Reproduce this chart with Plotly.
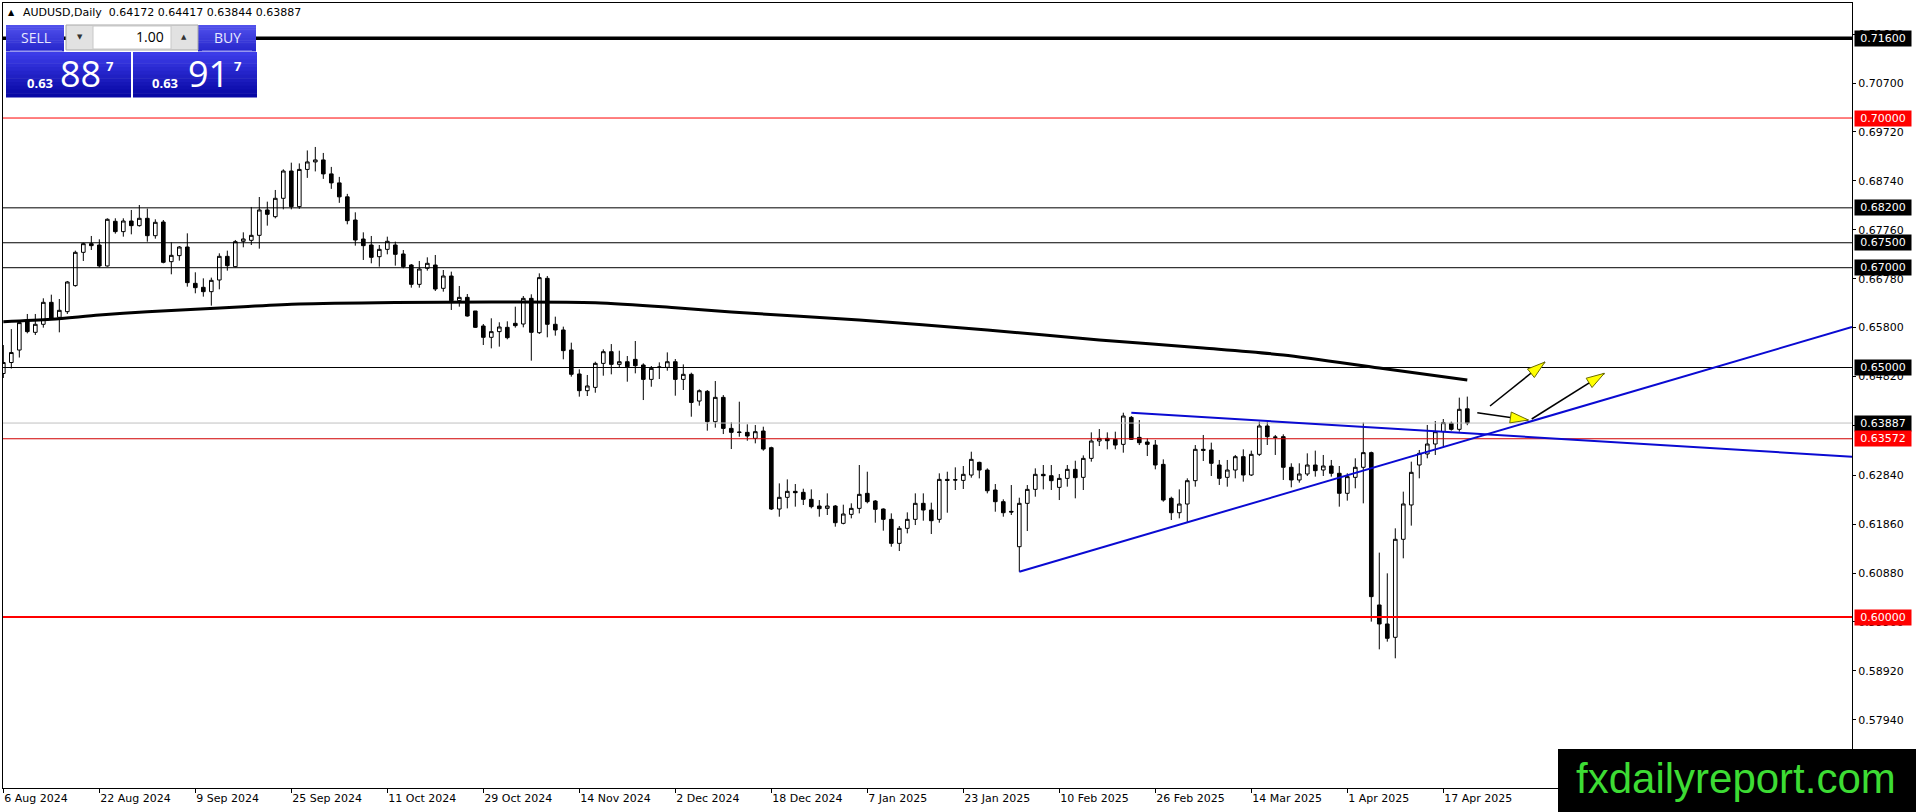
import plotly.graph_objects as go
import pandas as pd

# AUDUSD daily candles, 6 Aug 2024 .. 22 Apr 2025 (broker has no bar on 25 Dec / 1 Jan)
dates = pd.bdate_range("2024-08-06", "2025-04-22")
dates = dates[~dates.isin(pd.to_datetime(["2024-12-25", "2025-01-01"]))]

opens = [
    0.64880, 0.65100, 0.65350, 0.65939, 0.65705, 0.65866, 0.66306, 0.66006, 0.66119, 0.66641,
    0.67308, 0.67482, 0.67455, 0.67035, 0.67930, 0.67723, 0.67936, 0.67843, 0.67990, 0.67642,
    0.67916, 0.67121, 0.67242, 0.67415, 0.66687, 0.66607, 0.66520, 0.66754, 0.67228, 0.67021,
    0.67529, 0.67549, 0.67649, 0.68157, 0.68023, 0.68391, 0.68938, 0.68224, 0.68970, 0.69120,
    0.69160, 0.68880, 0.68700, 0.68420, 0.67956, 0.67575, 0.67455, 0.67221, 0.67368, 0.67455,
    0.67275, 0.67054, 0.66667, 0.66988, 0.67054, 0.66587, 0.66834, 0.66340, 0.66406, 0.66133,
    0.65832, 0.65605, 0.65719, 0.65805, 0.65885, 0.65872, 0.66386, 0.65698, 0.66787, 0.65866,
    0.65752, 0.65351, 0.64870, 0.64536, 0.64602, 0.65083, 0.65317, 0.65063, 0.65116, 0.65163,
    0.65050, 0.64762, 0.65000, 0.65003, 0.65116, 0.64762, 0.64863, 0.64328, 0.64522, 0.63914,
    0.64402, 0.63780, 0.63707, 0.63700, 0.63580, 0.63727, 0.63393, 0.62164, 0.62398, 0.62518,
    0.62498, 0.62358, 0.62224, 0.62177, 0.62224, 0.61877, 0.62057, 0.62177, 0.62478, 0.62324,
    0.62164, 0.61957, 0.61476, 0.61777, 0.61957, 0.62278, 0.62144, 0.61957, 0.62758, 0.62752,
    0.62738, 0.62845, 0.63099, 0.62945, 0.62545, 0.62311, 0.62117, 0.61409, 0.62278, 0.62558,
    0.62859, 0.62832, 0.62598, 0.62778, 0.62959, 0.62799, 0.63179, 0.63527, 0.63580, 0.63560,
    0.63460, 0.64001, 0.63600, 0.63507, 0.63446, 0.63059, 0.62378, 0.62090, 0.62264, 0.62732,
    0.63360, 0.63347, 0.63046, 0.62799, 0.62946, 0.63213, 0.62846, 0.63260, 0.63828, 0.63608,
    0.63614, 0.63000, 0.62746, 0.62866, 0.63046, 0.62946, 0.63026, 0.62880, 0.62479, 0.62799,
    0.63000, 0.63294, 0.60241, 0.59860, 0.59593, 0.61557, 0.62245, 0.63046, 0.63267, 0.63467,
    0.63714, 0.63881, 0.63761, 0.64172,
]
highs = [
    0.65450, 0.65770, 0.65940, 0.66073, 0.66073, 0.66387, 0.66460, 0.66373, 0.66734, 0.67342,
    0.67502, 0.67636, 0.67569, 0.67990, 0.67990, 0.67990, 0.68157, 0.68257, 0.68184, 0.67970,
    0.67956, 0.67509, 0.67435, 0.67689, 0.66908, 0.66787, 0.66801, 0.67288, 0.67342, 0.67556,
    0.67709, 0.68217, 0.68417, 0.68324, 0.68558, 0.68972, 0.69105, 0.69090, 0.69350, 0.69420,
    0.69300, 0.69020, 0.68820, 0.68480, 0.68110, 0.67709, 0.67636, 0.67455, 0.67622, 0.67522,
    0.67355, 0.67074, 0.67135, 0.67208, 0.67255, 0.66954, 0.66921, 0.66634, 0.66473, 0.66133,
    0.65872, 0.65986, 0.65906, 0.65926, 0.66219, 0.66433, 0.66467, 0.66887, 0.66834, 0.66019,
    0.65819, 0.65498, 0.64964, 0.64850, 0.65116, 0.65364, 0.65470, 0.65337, 0.65230, 0.65531,
    0.65083, 0.65030, 0.65103, 0.65303, 0.65170, 0.65063, 0.64896, 0.64562, 0.64549, 0.64729,
    0.64448, 0.63901, 0.64315, 0.63861, 0.63847, 0.63814, 0.63413, 0.62678, 0.62758, 0.62665,
    0.62571, 0.62558, 0.62344, 0.62478, 0.62244, 0.62251, 0.62278, 0.63046, 0.62912, 0.62344,
    0.62177, 0.62077, 0.61823, 0.62097, 0.62478, 0.62478, 0.62291, 0.62879, 0.62912, 0.62999,
    0.63026, 0.63313, 0.63113, 0.62979, 0.62665, 0.62358, 0.62645, 0.62391, 0.62645, 0.62979,
    0.63046, 0.63046, 0.62865, 0.63046, 0.63132, 0.63239, 0.63700, 0.63767, 0.63700, 0.63714,
    0.64094, 0.64028, 0.63947, 0.63580, 0.63547, 0.63159, 0.62411, 0.62558, 0.62779, 0.63446,
    0.63648, 0.63494, 0.63147, 0.63147, 0.63247, 0.63360, 0.63334, 0.63915, 0.63915, 0.63648,
    0.63661, 0.63080, 0.63080, 0.63280, 0.63334, 0.63247, 0.63147, 0.63026, 0.62880, 0.63180,
    0.63895, 0.63314, 0.61290, 0.60875, 0.61777, 0.62512, 0.63113, 0.63347, 0.63848, 0.63928,
    0.63968, 0.63915, 0.64396, 0.64417,
]
lows = [
    0.64790, 0.64980, 0.65200, 0.65685, 0.65652, 0.65799, 0.65952, 0.65705, 0.66073, 0.66620,
    0.67135, 0.67355, 0.67001, 0.67021, 0.67683, 0.67622, 0.67669, 0.67823, 0.67522, 0.67582,
    0.67088, 0.66868, 0.67141, 0.66620, 0.66487, 0.66420, 0.66240, 0.66567, 0.66941, 0.67008,
    0.67409, 0.67455, 0.67382, 0.67843, 0.67990, 0.68170, 0.68170, 0.68180, 0.68800, 0.68930,
    0.68780, 0.68580, 0.68300, 0.67870, 0.67442, 0.67155, 0.67088, 0.67021, 0.67268, 0.67041,
    0.66988, 0.66600, 0.66600, 0.66941, 0.66533, 0.66520, 0.66153, 0.66219, 0.66019, 0.65792,
    0.65451, 0.65384, 0.65418, 0.65565, 0.65799, 0.65805, 0.65137, 0.65672, 0.65605, 0.65638,
    0.65164, 0.64817, 0.64416, 0.64429, 0.64495, 0.64836, 0.64863, 0.65003, 0.64716, 0.64883,
    0.64348, 0.64615, 0.64769, 0.64936, 0.64435, 0.64549, 0.64014, 0.64235, 0.63734, 0.63794,
    0.63667, 0.63366, 0.63613, 0.63533, 0.63480, 0.63333, 0.62144, 0.62010, 0.62177, 0.62211,
    0.62244, 0.62177, 0.62010, 0.62044, 0.61810, 0.61857, 0.61977, 0.62077, 0.62278, 0.61890,
    0.61730, 0.61409, 0.61322, 0.61676, 0.61843, 0.61930, 0.61663, 0.61890, 0.62090, 0.62545,
    0.62565, 0.62792, 0.62778, 0.62478, 0.62110, 0.62010, 0.62044, 0.60908, 0.61723, 0.62411,
    0.62558, 0.62545, 0.62344, 0.62612, 0.62378, 0.62545, 0.63113, 0.63426, 0.63360, 0.63360,
    0.63293, 0.63547, 0.63446, 0.63226, 0.62959, 0.62311, 0.61944, 0.61977, 0.61890, 0.62612,
    0.63127, 0.62826, 0.62646, 0.62612, 0.62779, 0.62712, 0.62826, 0.63227, 0.63447, 0.63247,
    0.62746, 0.62599, 0.62692, 0.62826, 0.62813, 0.62826, 0.62813, 0.62211, 0.62332, 0.62579,
    0.62278, 0.59907, 0.59352, 0.59506, 0.59172, 0.61176, 0.61831, 0.62779, 0.63180, 0.63247,
    0.63414, 0.63735, 0.63714, 0.63844,
]
closes = [
    0.65100, 0.65300, 0.65900, 0.65719, 0.65866, 0.66306, 0.65972, 0.66146, 0.66714, 0.67308,
    0.67482, 0.67442, 0.67035, 0.67970, 0.67723, 0.67936, 0.67843, 0.67990, 0.67642, 0.67910,
    0.67108, 0.67248, 0.67415, 0.66701, 0.66600, 0.66520, 0.66747, 0.67228, 0.67041, 0.67522,
    0.67576, 0.67649, 0.68157, 0.68070, 0.68391, 0.68938, 0.68224, 0.68970, 0.69120, 0.69160,
    0.68880, 0.68700, 0.68420, 0.67943, 0.67555, 0.67442, 0.67208, 0.67368, 0.67529, 0.67268,
    0.67021, 0.66667, 0.66974, 0.67088, 0.66573, 0.66834, 0.66340, 0.66406, 0.66032, 0.65805,
    0.65605, 0.65719, 0.65812, 0.65598, 0.65839, 0.66386, 0.65705, 0.66801, 0.65866, 0.65752,
    0.65338, 0.64864, 0.64536, 0.64630, 0.65083, 0.65317, 0.65063, 0.65116, 0.65016, 0.65036,
    0.64762, 0.64983, 0.65010, 0.65116, 0.64762, 0.64863, 0.64300, 0.64535, 0.63914, 0.64402,
    0.63780, 0.63700, 0.63700, 0.63627, 0.63714, 0.63366, 0.62164, 0.62398, 0.62518, 0.62491,
    0.62358, 0.62211, 0.62171, 0.62224, 0.61890, 0.62064, 0.62177, 0.62458, 0.62311, 0.62157,
    0.61957, 0.61476, 0.61777, 0.61957, 0.62278, 0.62144, 0.61930, 0.62758, 0.62738, 0.62745,
    0.62859, 0.63159, 0.62945, 0.62530, 0.62311, 0.62090, 0.62104, 0.62278, 0.62558, 0.62859,
    0.62832, 0.62732, 0.62778, 0.62959, 0.62792, 0.63179, 0.63527, 0.63580, 0.63533, 0.63446,
    0.64028, 0.63560, 0.63493, 0.63460, 0.63046, 0.62344, 0.62090, 0.62264, 0.62732, 0.63360,
    0.63340, 0.63080, 0.62779, 0.62946, 0.63213, 0.62846, 0.63260, 0.63828, 0.63614, 0.63601,
    0.63000, 0.62746, 0.62866, 0.63046, 0.62933, 0.63026, 0.62880, 0.62479, 0.62813, 0.63000,
    0.63294, 0.60408, 0.59860, 0.59573, 0.61557, 0.62265, 0.62899, 0.63280, 0.63467, 0.63714,
    0.63895, 0.63761, 0.64162, 0.63887,
]

# moving average (read at a few bars)
ma_bars = [0, 6, 12, 18, 24, 30, 37, 49, 61, 74, 84, 91, 107, 123, 137, 150, 160, 172, 183]
ma_vals = [0.65918, 0.65966, 0.66052, 0.66118, 0.66166, 0.66218, 0.66273, 0.66303, 0.66313,
           0.66300, 0.66200, 0.66112, 0.65952, 0.65752, 0.65551, 0.65391, 0.65251, 0.64990, 0.64749]

tick_dates = ["2024-08-06", "2024-08-22", "2024-09-09", "2024-09-25", "2024-10-11", "2024-10-29",
              "2024-11-14", "2024-12-02", "2024-12-18", "2025-01-07", "2025-01-23", "2025-02-10",
              "2025-02-26", "2025-03-14", "2025-04-01", "2025-04-17"]
price_ticks = [0.7168, 0.7070, 0.6972, 0.6874, 0.6776, 0.6678, 0.6580, 0.6482, 0.6384,
               0.6284, 0.6186, 0.6088, 0.5990, 0.5892, 0.5794]

# horizontal levels: price, line colour, width, label colour
levels = [
    (0.71600, "black", 3.5, "black"),
    (0.70000, "#ff0000", 1, "#ff0000"),
    (0.68200, "black", 1, "black"),
    (0.67500, "black", 1, "black"),
    (0.67000, "black", 1, "black"),
    (0.65000, "black", 1, "black"),
    (0.63887, "#c0c0c0", 1, "black"),
    (0.63572, "#d00000", 1, "#ff0000"),
    (0.60000, "#ff0000", 2, "#ff0000"),
]

# trendlines (bar, price) anchors, drawn as rays to the right
trend_up = [(127, 0.60908), (183, 0.63546)]
trend_down = [(141, 0.64094), (183, 0.63683)]

# arrows: start -> tip (bar, price)
arrows = [
    ((185.84, 0.64228), (192.71, 0.65110)),
    ((184.25, 0.64094), (190.63, 0.63948)),
    ((191.05, 0.63968), (200.13, 0.64884)),
]

W, H = 1916, 812
L, R, T, B = 3, 1852, 3, 788
XR = [-0.04, 231.09]
YR = [0.56573, 0.72305]
KX = (R - L) / (XR[1] - XR[0])
KY = (B - T) / (YR[1] - YR[0])

date_list = list(dates.strftime("%Y-%m-%d"))
bars = list(range(len(date_list)))
tickvals = [date_list.index(d) for d in tick_dates]
ticktext = [pd.Timestamp(d).strftime("%-d %b %Y") for d in tick_dates]


def px(x):
    return (x - L) / (R - L)


def py(y):
    return 1 - (y - T) / (B - T)


def box(x0, y0, x1, y1, fill, line=None, lw=0):
    return dict(type="rect", xref="paper", yref="paper", layer="above",
                x0=px(x0), x1=px(x1), y0=py(y1), y1=py(y0),
                fillcolor=fill, line=dict(color=line or fill, width=lw))


def gradient(x0, y0, x1, y1, top, bot, n=12):
    out = []
    for k in range(n):
        t = k / (n - 1)
        c = tuple(round(a + (b - a) * t) for a, b in zip(top, bot))
        ya = y0 + (y1 - y0) * k / n
        yb = y0 + (y1 - y0) * (k + 1) / n
        out.append(box(x0, ya, x1, yb + 0.5, "rgb(%d,%d,%d)" % c))
    return out


def text(x, y, s, size, color="white", family="Open Sans", xanchor="left", bold=False):
    return dict(xref="paper", yref="paper", x=px(x), y=py(y), text="<b>%s</b>" % s if bold else s,
                showarrow=False, xanchor=xanchor, yanchor="middle",
                font=dict(family=family, size=size, color=color))


fig = go.Figure()

fig.add_trace(go.Candlestick(
    x=bars, open=opens, high=highs, low=lows, close=closes,
    increasing=dict(fillcolor="white", line=dict(color="black", width=1)),
    decreasing=dict(fillcolor="black", line=dict(color="black", width=1)),
    whiskerwidth=0, showlegend=False, hoverinfo="skip",
))
fig.add_trace(go.Scatter(x=ma_bars, y=ma_vals, mode="lines",
                         line=dict(color="black", width=3, shape="spline", smoothing=0.8),
                         showlegend=False, hoverinfo="skip"))

shapes = []
annotations = []

for price, col, w, lab in levels:
    shapes.append(dict(type="line", xref="paper", yref="y", x0=0, x1=1, y0=price, y1=price,
                       line=dict(color=col, width=w), layer="above"))
    annotations.append(dict(xref="paper", yref="y", x=1, y=price, xanchor="left", yanchor="middle",
                            xshift=2, text="%.5f" % price, showarrow=False, bgcolor=lab,
                            width=54, borderpad=1, align="center",
                            font=dict(family="DejaVu Sans", size=11, color="white")))

for (i0, p0), (i1, p1) in (trend_up, trend_down):
    slope = (p1 - p0) / (i1 - i0)
    shapes.append(dict(type="line", xref="x", yref="y", x0=i0, y0=p0,
                       x1=XR[1], y1=p0 + slope * (XR[1] - i0),
                       line=dict(color="#0a0ad2", width=2), layer="above"))

for (i0, p0), (i1, p1) in arrows:
    shapes.append(dict(type="line", xref="x", yref="y", x0=i0, y0=p0, x1=i1, y1=p1,
                       line=dict(color="black", width=1.5), layer="above"))
    # yellow head, built in pixel space
    dx, dy = (i1 - i0) * KX, -(p1 - p0) * KY
    n = (dx * dx + dy * dy) ** 0.5
    ux, uy = dx / n, dy / n
    hl, hw = 18, 5.5
    bx, by = -ux * hl, -uy * hl
    pts = [(0, 0), (bx - uy * hw, by + ux * hw), (bx + uy * hw, by - ux * hw)]
    path = "M " + " L ".join("%f,%f" % (i1 + qx / KX, p1 - qy / KY) for qx, qy in pts) + " Z"
    shapes.append(dict(type="path", xref="x", yref="y", path=path, fillcolor="#ffff00",
                       line=dict(color="#6b6b00", width=1), layer="above"))

# one-click trading panel
shapes += gradient(6, 25, 64, 51, (80, 80, 235), (40, 40, 205))
shapes += gradient(198, 25, 256, 51, (80, 80, 235), (40, 40, 205))
shapes.append(box(10, 50.5, 62, 51.5, "#9a9af5"))
shapes.append(box(202, 50.5, 252, 51.5, "#9a9af5"))
shapes.append(box(66, 25, 198, 50, "#e2e2e2", "#a8a8a8", 1))
shapes.append(box(93, 26, 171, 49, "white", "#c8c8c8", 1))
shapes += gradient(6, 52, 131, 97, (60, 60, 232), (8, 8, 165))
shapes += gradient(133, 52, 257, 97, (60, 60, 232), (8, 8, 165))

annotations += [
    text(6, 13, "▲", 8, "black", "DejaVu Sans"),
    text(21, 13, "AUDUSD,Daily  0.64172 0.64417 0.63844 0.63887", 11, "black", "DejaVu Sans"),
    text(35.5, 38, "SELL", 14, "#e8e8ff", xanchor="center"),
    text(227, 38, "BUY", 14, "#e8e8ff", xanchor="center"),
    text(80, 37, "▼", 7, "#333333", "DejaVu Sans", xanchor="center"),
    text(184, 37, "▲", 7, "#333333", "DejaVu Sans", xanchor="center"),
    text(166, 37, "1.00", 14, "black", xanchor="right"),
    text(25, 83, "0.63", 13, bold=True),
    text(58, 74, "88", 36),
    text(104, 66, "7", 13, bold=True),
    text(150, 83, "0.63", 13, bold=True),
    text(186, 74, "91", 36),
    text(232, 66, "7", 13, bold=True),
]

# watermark
shapes.append(box(1558, 749, 1920, 815, "black"))
annotations.append(text(1736, 778, "fxdailyreport.com", 42, "#3ddc34", "Liberation Sans", xanchor="center"))

fig.update_layout(
    width=W, height=H,
    margin=dict(l=L, r=W - R, t=T, b=H - B),
    paper_bgcolor="white", plot_bgcolor="white",
    showlegend=False, boxgap=0.35,
    shapes=shapes, annotations=annotations,
    font=dict(family="DejaVu Sans", size=11, color="black"),
)
fig.update_xaxes(range=XR, tickvals=tickvals, ticktext=ticktext, showgrid=False, zeroline=False,
                 showline=True, mirror=True, linecolor="black", linewidth=1,
                 ticks="outside", ticklen=4, tickcolor="black",
                 ticklabelposition="outside right", rangeslider=dict(visible=False),
                 tickfont=dict(family="DejaVu Sans", size=11, color="black"))
fig.update_yaxes(range=YR, side="right", tickvals=price_ticks,
                 ticktext=["%.5f" % v for v in price_ticks], showgrid=False, zeroline=False,
                 showline=True, mirror=True, linecolor="black", linewidth=1,
                 ticks="outside", ticklen=3, tickcolor="black",
                 tickfont=dict(family="DejaVu Sans", size=11, color="black"))

fig.write_html("out.html", config={"displayModeBar": False},
               post_script="document.body.style.margin='0px';document.body.style.overflow='hidden';")
